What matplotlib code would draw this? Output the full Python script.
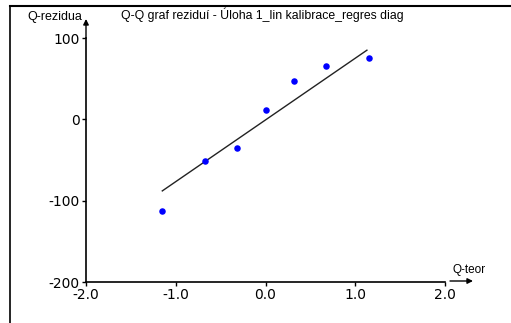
import matplotlib
matplotlib.use("Agg")
import matplotlib.pyplot as plt
from matplotlib.lines import Line2D

# Data
theor_q = [-1.15, -0.67, -0.32, 0.0, 0.32, 0.67, 1.15]
residuals = [-113, -51, -35, 12, 47, 65, 75]
line_x = [-1.15, 1.13]
line_y = [-88, 85]
x_ticks = [-2.0, -1.0, 0.0, 1.0, 2.0]
x_tick_labels = ["-2.0", "-1.0", "0.0", "1.0", "2.0"]
y_ticks = [-200, -100, 0, 100]
y_tick_labels = ["-200", "-100", "0", "100"]
title = "Q-Q graf reziduí - Úloha 1_lin kalibrace_regres diag"
xlabel = "Q-teor"
ylabel = "Q-rezidua"

W, H = 511, 323
fig = plt.figure(figsize=(W / 100, H / 100), dpi=100)
fig.patch.set_facecolor("white")

# axes region in pixels: x 86..445, y 38..282
ax = fig.add_axes([86 / W, (H - 282) / H, 359 / W, 244 / H])
ax.set_xlim(-2.0, 2.0)
ax.set_ylim(-200, 100)
for s in ["top", "right"]:
    ax.spines[s].set_visible(False)
ax.spines["left"].set_linewidth(1.2)
ax.spines["bottom"].set_linewidth(1.2)
ax.set_facecolor("none")

ax.set_xticks(x_ticks)
ax.set_xticklabels(x_tick_labels, family="DejaVu Sans", fontsize=10)
ax.set_yticks(y_ticks)
ax.set_yticklabels(y_tick_labels, family="DejaVu Sans", fontsize=10)
ax.tick_params(direction="out", length=3, width=1.0, pad=1.5, colors="black")

ax.plot(line_x, line_y, color="#222222", lw=1.0)
ax.scatter(theor_q, residuals, s=22, color="#0000ff", zorder=3, linewidths=0)

# axis arrows
ax.annotate("", xy=(86 / W, (H - 19) / H), xytext=(86 / W, (H - 38) / H),
            xycoords="figure fraction", textcoords="figure fraction",
            arrowprops=dict(arrowstyle="-|>", lw=1.0, color="black",
                            mutation_scale=8, shrinkA=0, shrinkB=0))
ax.annotate("", xy=(473 / W, (H - 281) / H), xytext=(450 / W, (H - 281) / H),
            xycoords="figure fraction", textcoords="figure fraction",
            arrowprops=dict(arrowstyle="-|>", lw=1.0, color="black",
                            mutation_scale=8, shrinkA=0, shrinkB=0))

# labels
fig.text(82 / W, (H - 17) / H, ylabel, ha="right", va="center",
         family="Liberation Sans", fontsize=9)
fig.text(469 / W, (H - 270) / H, xlabel, ha="center", va="center",
         family="Liberation Sans", fontsize=8.5)
fig.text(262 / W, (H - 15) / H, title, ha="center", va="center",
         family="Liberation Sans", fontsize=8.8)

# frame lines
fig.add_artist(Line2D([10 / W, 10 / W], [0, (H - 6) / H], color="black", lw=1.2,
                      transform=fig.transFigure))
fig.add_artist(Line2D([10 / W, 1], [(H - 6) / H, (H - 6) / H], color="black", lw=1.5,
                      transform=fig.transFigure))

fig.savefig("out.png", dpi=100, facecolor="white")
